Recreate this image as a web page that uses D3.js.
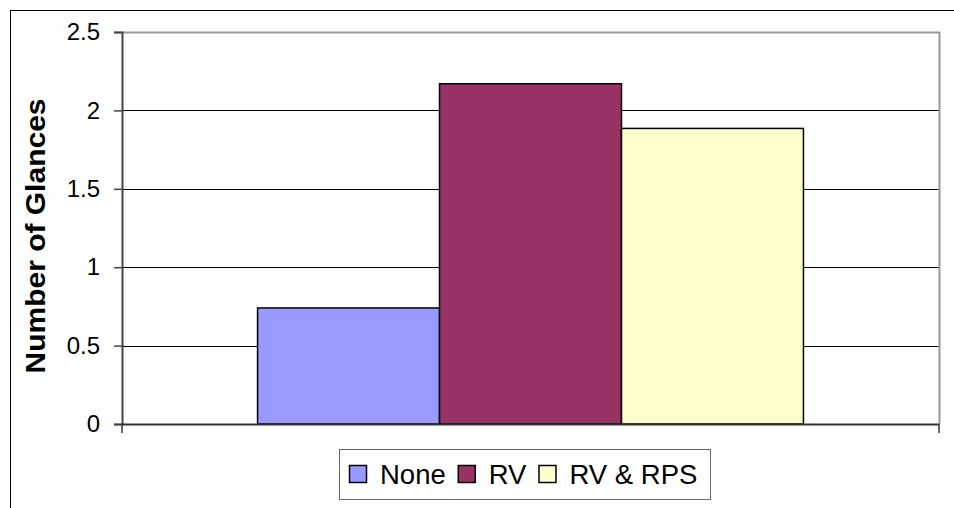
<!DOCTYPE html>
<html>
<head>
<meta charset="utf-8">
<script src="https://cdn.jsdelivr.net/npm/d3@7"></script>
<style>
  body { margin: 0; background: #fff; }
  text { font-family: "Liberation Sans", Arial, sans-serif; }
</style>
</head>
<body>
<script>
"use strict";

let width = 954;
let height = 508;

// data
let categories = [""];
let seriesNames = ["None", "RV", "RV & RPS"];
let seriesValues = [0.74, 2.17, 1.885];
let seriesColors = ["#9999FF", "#993366", "#FFFFCC"];
let yTicks = [0, 0.5, 1, 1.5, 2, 2.5];
let yLabel = "Number of Glances";

let plot = { left: 122, top: 32, right: 939, bottom: 424 };

let svg = d3.select("body").append("svg").attr("width", width).attr("height", height);

// chart area border (extends past the window on the right and bottom)
svg.append("rect")
  .attr("x", 10.5).attr("y", 10.5)
  .attr("width", 960).attr("height", 520)
  .attr("fill", "#fff")
  .attr("stroke", "#000")
  .attr("stroke-width", 1);

let y = d3.scaleLinear().domain([0, 2.5]).range([plot.bottom, plot.top]);

let xCat = d3.scaleBand().domain(categories).range([plot.left, plot.right]);

let xSeries = d3.scaleBand()
  .domain(seriesNames)
  .range([0, xCat.bandwidth()])
  .paddingInner(0)
  .paddingOuter(0.745);

let g = svg.append("g");

// gridlines
g.selectAll(".grid")
  .data(yTicks.filter(d => d > 0 && d < 2.5))
  .enter()
  .append("line")
  .attr("x1", plot.left).attr("x2", plot.right)
  .attr("y1", d => Math.round(y(d)) + 0.5)
  .attr("y2", d => Math.round(y(d)) + 0.5)
  .attr("stroke", "#000")
  .attr("stroke-width", 1);

// plot border top and right (gray)
g.append("path")
  .attr("d", `M${plot.left},${plot.top + 0.5}H${plot.right + 0.5}V${plot.bottom}`)
  .attr("fill", "none")
  .attr("stroke", "#999")
  .attr("stroke-width", 2);

// bars
g.selectAll(".bar")
  .data(seriesValues)
  .enter()
  .append("rect")
  .attr("class", "bar")
  .attr("x", (d, i) => xCat(categories[0]) + xSeries(seriesNames[i]))
  .attr("y", d => y(d))
  .attr("width", xSeries.bandwidth())
  .attr("height", d => y(0) - y(d))
  .attr("fill", (d, i) => seriesColors[i])
  .attr("stroke", "#000")
  .attr("stroke-width", 1.5);

// y axis
let yAxis = d3.axisLeft(y)
  .tickValues(yTicks)
  .tickFormat(d3.format("~g"))
  .tickSize(8)
  .tickPadding(14);

let ya = svg.append("g")
  .attr("transform", `translate(${plot.left},0)`)
  .call(yAxis);
ya.select(".domain").attr("stroke", "#444").attr("stroke-width", 2);
ya.selectAll(".tick line").attr("stroke", "#444").attr("stroke-width", 1.5);
ya.selectAll(".tick text")
  .attr("font-size", 24)
  .attr("font-family", "Liberation Sans, Arial, sans-serif")
  .attr("fill", "#000");

// x axis: one category, ticks only at the ends
let xa = svg.append("g");
xa.append("line")
  .attr("x1", plot.left).attr("x2", plot.right)
  .attr("y1", plot.bottom + 0.5).attr("y2", plot.bottom + 0.5)
  .attr("stroke", "#333").attr("stroke-width", 2);
xa.selectAll(".xtick")
  .data(xCat.range())
  .enter()
  .append("line")
  .attr("x1", d => d).attr("x2", d => d)
  .attr("y1", plot.bottom).attr("y2", plot.bottom + 9)
  .attr("stroke", "#333").attr("stroke-width", 1.5);

// y axis title
svg.append("text")
  .attr("transform", `translate(45,236) rotate(-90)`)
  .attr("text-anchor", "middle")
  .attr("font-size", 27)
  .attr("font-weight", "bold")
  .attr("textLength", 275)
  .attr("lengthAdjust", "spacingAndGlyphs")
  .text(yLabel);

// legend
let legend = svg.append("g");
legend.append("rect")
  .attr("x", 339.5).attr("y", 449.5)
  .attr("width", 371).attr("height", 50)
  .attr("fill", "#fff")
  .attr("stroke", "#666")
  .attr("stroke-width", 1);

let lx = 349;
seriesNames.forEach(function (name, i) {
  legend.append("rect")
    .attr("x", lx + 0.5).attr("y", 465.5)
    .attr("width", 17).attr("height", 17)
    .attr("fill", seriesColors[i])
    .attr("stroke", "#000")
    .attr("stroke-width", 1.5);
  let t = legend.append("text")
    .attr("x", lx + 31)
    .attr("y", 484)
    .attr("font-size", 27.5)
    .text(name);
  lx = lx + 31 + t.node().getComputedTextLength() + 12;
});
</script>
</body>
</html>
